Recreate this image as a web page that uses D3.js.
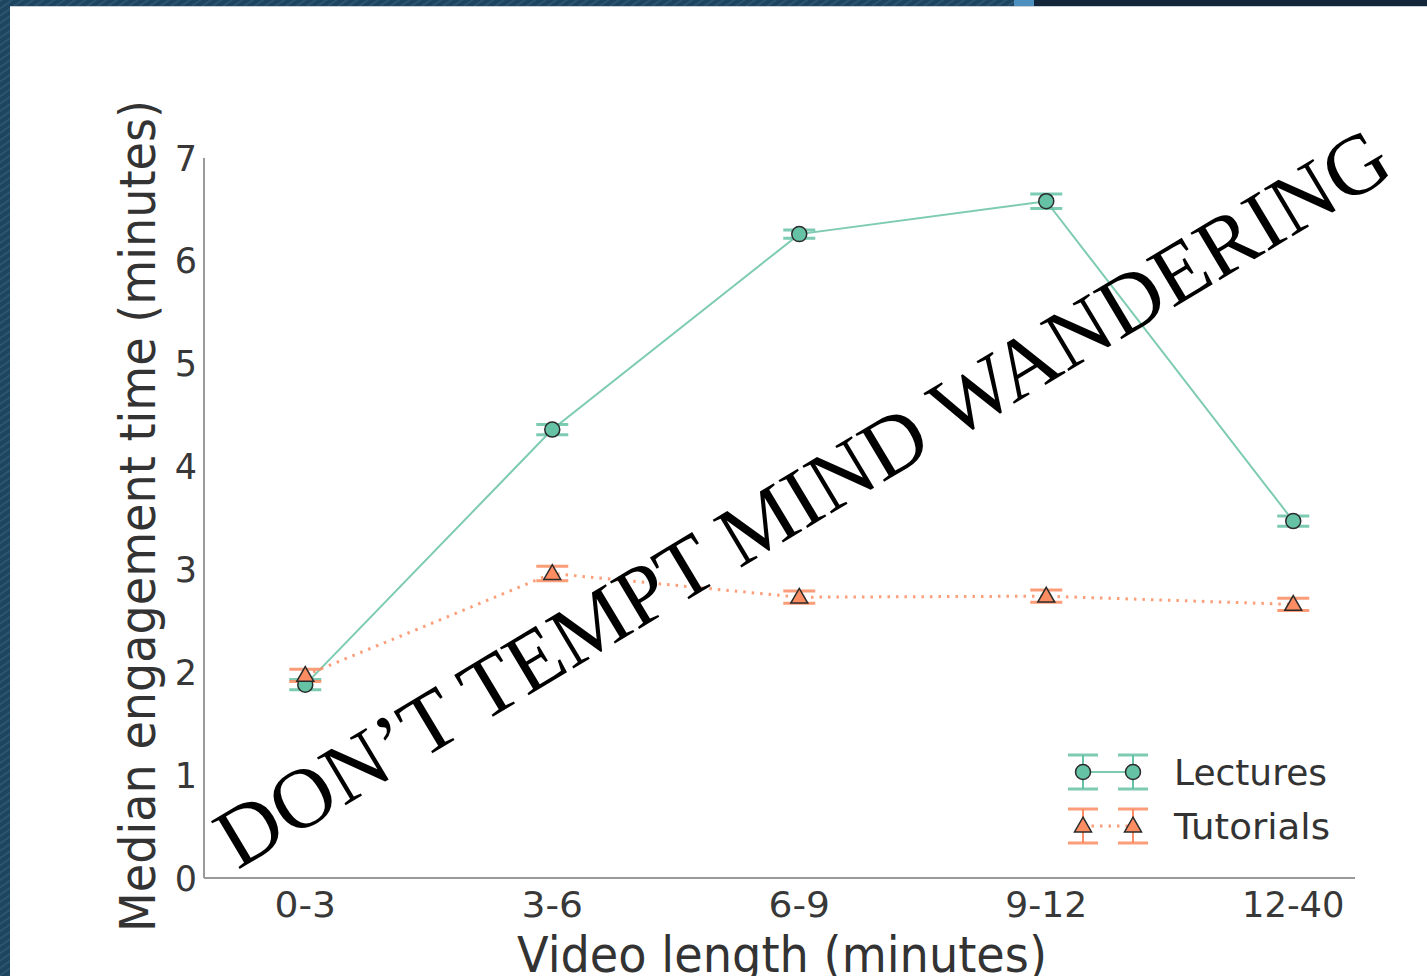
<!DOCTYPE html>
<html>
<head>
<meta charset="utf-8">
<script src="https://cdn.jsdelivr.net/npm/d3@7"></script>
<style>
  html, body { margin: 0; padding: 0; background: #fff; }
  svg { display: block; }
</style>
</head>
<body>
<div id="chart"></div>
<script>
// values
const categories = ['0-3', '3-6', '6-9', '9-12', '12-40'];
const lectures = [1.88, 4.36, 6.26, 6.58, 3.47];
const lecturesErr = [0.05, 0.05, 0.04, 0.07, 0.05];
const tutorials = [1.97, 2.96, 2.73, 2.74, 2.66];
const tutorialsErr = [0.06, 0.07, 0.06, 0.06, 0.06];
const yTicks = [0, 1, 2, 3, 4, 5, 6, 7];

const green = '#66c2a5';
const orange = '#fc8d62';
const edge = '#2b2b2b';
const font = 'DejaVu Sans, sans-serif';

const width = 1427, height = 976;

const svg = d3.select('#chart').append('svg')
    .attr('width', width)
    .attr('height', height);

// slide frame (hatched blue strips)
const defs = svg.append('defs');
const pat = defs.append('pattern')
    .attr('id', 'hatch')
    .attr('width', 6).attr('height', 6)
    .attr('patternUnits', 'userSpaceOnUse')
    .attr('patternTransform', 'rotate(-35)');
pat.append('rect').attr('width', 6).attr('height', 6).attr('fill', '#1d4560');
pat.append('rect').attr('width', 6).attr('height', 2).attr('fill', '#2a5470');

svg.append('rect').attr('width', width).attr('height', height).attr('fill', '#fff');
svg.append('rect').attr('x', 0).attr('y', 0).attr('width', width).attr('height', 6).attr('fill', 'url(#hatch)');
svg.append('rect').attr('x', 1034).attr('y', 0).attr('width', width - 1034).attr('height', 6).attr('fill', '#13263a');
svg.append('rect').attr('x', 1014).attr('y', 0).attr('width', 20).attr('height', 6).attr('fill', '#4d8fbf');
svg.append('rect').attr('x', 0).attr('y', 0).attr('width', 10).attr('height', height).attr('fill', 'url(#hatch)');
svg.append('line').attr('x1', 10).attr('x2', width).attr('y1', 6.5).attr('y2', 6.5)
    .attr('stroke', '#c8cfd6').attr('stroke-width', 1);

// scales
const x = d3.scaleLinear().domain([-0.41, 4.25]).range([204, 1355]);
const y = d3.scaleLinear().domain([0, 7]).range([878, 158]);

// axes (only left and bottom spines)
const axisColor = '#9a9a9a';
svg.append('line')
    .attr('x1', x.range()[0]).attr('x2', x.range()[0])
    .attr('y1', y(7)).attr('y2', y(0))
    .attr('stroke', axisColor).attr('stroke-width', 2);
svg.append('line')
    .attr('x1', x.range()[0]).attr('x2', x.range()[1])
    .attr('y1', y(0)).attr('y2', y(0))
    .attr('stroke', axisColor).attr('stroke-width', 2);

svg.append('g').selectAll('text')
    .data(yTicks)
    .join('text')
    .attr('x', 197)
    .attr('y', d => y(d))
    .attr('dy', '0.36em')
    .attr('text-anchor', 'end')
    .attr('font-family', font)
    .attr('font-size', 35)
    .attr('fill', '#383838')
    .text(d => d);

svg.append('g').selectAll('text')
    .data(categories)
    .join('text')
    .attr('x', (d, i) => x(i))
    .attr('y', 917)
    .attr('text-anchor', 'middle')
    .attr('font-family', font)
    .attr('font-size', 35)
    .attr('fill', '#383838')
    .attr('textLength', d => d.length * 20.5)
    .attr('lengthAdjust', 'spacingAndGlyphs')
    .text(d => d);

// axis titles (the x title is clipped by the slide edge, as in the source)
svg.append('text')
    .attr('x', 782)
    .attr('y', 972)
    .attr('text-anchor', 'middle')
    .attr('font-family', font)
    .attr('font-size', 49)
    .attr('fill', '#333')
    .attr('textLength', 530)
    .attr('lengthAdjust', 'spacingAndGlyphs')
    .text('Video length (minutes)');

svg.append('text')
    .attr('transform', 'translate(155,516) rotate(-90)')
    .attr('text-anchor', 'middle')
    .attr('font-family', font)
    .attr('font-size', 49)
    .attr('fill', '#333')
    .attr('textLength', 832)
    .attr('lengthAdjust', 'spacingAndGlyphs')
    .text('Median engagement time (minutes)');

// series
const line = d3.line().x((d, i) => x(i)).y(d => y(d));

function errorBars(vals, errs, color) {
    const g = svg.append('g');
    vals.forEach((v, i) => {
        [v - errs[i], v + errs[i]].forEach(e => {
            g.append('line')
                .attr('x1', x(i) - 16).attr('x2', x(i) + 16)
                .attr('y1', y(e)).attr('y2', y(e))
                .attr('stroke', color).attr('stroke-width', 3).attr('opacity', 0.85);
        });
        g.append('line')
            .attr('x1', x(i)).attr('x2', x(i))
            .attr('y1', y(v - errs[i])).attr('y2', y(v + errs[i]))
            .attr('stroke', color).attr('stroke-width', 2);
    });
}

const tri = d3.symbol().type(d3.symbolTriangle).size(125);

// lectures
svg.append('path')
    .datum(lectures)
    .attr('d', line)
    .attr('fill', 'none')
    .attr('stroke', green)
    .attr('stroke-width', 2)
    .attr('opacity', 0.85);
errorBars(lectures, lecturesErr, green);

// tutorials
svg.append('path')
    .datum(tutorials)
    .attr('d', line)
    .attr('fill', 'none')
    .attr('stroke', orange)
    .attr('stroke-width', 3)
    .attr('stroke-dasharray', '2.5,6')
    .attr('opacity', 0.85);
errorBars(tutorials, tutorialsErr, orange);

svg.append('g').selectAll('circle')
    .data(lectures)
    .join('circle')
    .attr('cx', (d, i) => x(i))
    .attr('cy', d => y(d))
    .attr('r', 7.5)
    .attr('fill', green)
    .attr('stroke', edge)
    .attr('stroke-width', 1.5);

svg.append('g').selectAll('path')
    .data(tutorials)
    .join('path')
    .attr('d', tri)
    .attr('transform', (d, i) => `translate(${x(i)},${y(d) + 1})`)
    .attr('fill', orange)
    .attr('stroke', edge)
    .attr('stroke-width', 1.5);

// legend
const legend = svg.append('g');
const legendRows = [
    { name: 'Lectures', color: green, cy: 772, dash: null, marker: 'circle' },
    { name: 'Tutorials', color: orange, cy: 826, dash: '2.5,6', marker: 'tri' }
];
legendRows.forEach(r => {
    const xs = [1083, 1133];
    legend.append('line')
        .attr('x1', xs[0]).attr('x2', xs[1])
        .attr('y1', r.cy).attr('y2', r.cy)
        .attr('stroke', r.color)
        .attr('stroke-width', r.dash ? 3 : 2)
        .attr('stroke-dasharray', r.dash)
        .attr('opacity', 0.85);
    xs.forEach(cx => {
        [r.cy - 17, r.cy + 17].forEach(cy => {
            legend.append('line')
                .attr('x1', cx - 15).attr('x2', cx + 15)
                .attr('y1', cy).attr('y2', cy)
                .attr('stroke', r.color).attr('stroke-width', 3).attr('opacity', 0.85);
        });
        legend.append('line')
            .attr('x1', cx).attr('x2', cx)
            .attr('y1', r.cy - 17).attr('y2', r.cy + 17)
            .attr('stroke', r.color).attr('stroke-width', 2);
        if (r.marker === 'circle') {
            legend.append('circle')
                .attr('cx', cx).attr('cy', r.cy).attr('r', 7.5)
                .attr('fill', r.color).attr('stroke', edge).attr('stroke-width', 1.5);
        } else {
            legend.append('path')
                .attr('d', tri)
                .attr('transform', `translate(${cx},${r.cy + 1})`)
                .attr('fill', r.color).attr('stroke', edge).attr('stroke-width', 1.5);
        }
    });
    legend.append('text')
        .attr('x', 1174)
        .attr('y', r.cy)
        .attr('dy', '0.36em')
        .attr('font-family', font)
        .attr('font-size', 36)
        .attr('fill', '#333')
        .attr('textLength', r.name === 'Lectures' ? 153 : 156)
        .attr('lengthAdjust', 'spacingAndGlyphs')
        .text(r.name);
});

// overlaid slide caption
svg.append('text')
    .attr('transform', 'translate(817,522) rotate(-31)')
    .attr('text-anchor', 'middle')
    .attr('font-family', 'Liberation Serif, Times New Roman, serif')
    .attr('font-size', 85)
    .attr('fill', '#000')
    .attr('textLength', 1352)
    .attr('lengthAdjust', 'spacingAndGlyphs')
    .text('DON\u2019T TEMPT MIND WANDERING');
</script>
</body>
</html>
